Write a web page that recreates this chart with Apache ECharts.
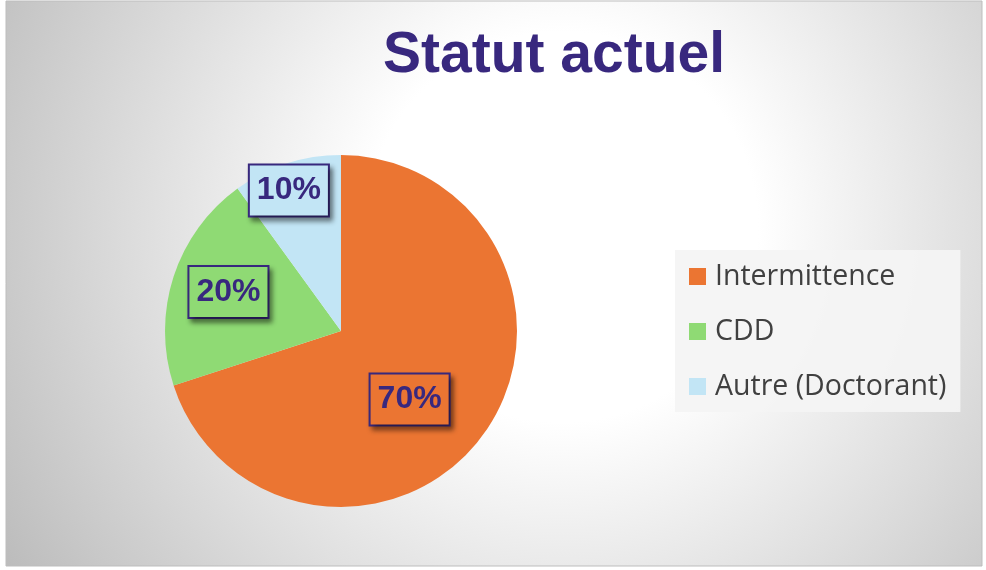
<!DOCTYPE html>
<html>
<head>
<meta charset="utf-8">
<script src="https://cdn.jsdelivr.net/npm/echarts@6/dist/echarts.min.js"></script>
<style>
  html, body { margin: 0; padding: 0; background: #fff; }
  #chart { width: 986px; height: 570px; }
</style>
</head>
<body>
<div id="chart"></div>
<script>
// data
const categories = ['Intermittence', 'CDD', 'Autre (Doctorant)'];
const values = [70, 20, 10];
const colors = ['#EB7532', '#8FDA74', '#C2E5F5'];

const chart = echarts.init(document.getElementById('chart'), null, { renderer: 'canvas' });

// manual label placement, like in the original (offset from default inside spot)
const labelOffsets = [[-5, 15], [-26, -11], [-24, -54]];

const option = {
  animation: false,
  graphic: [
    {
      type: 'rect',
      silent: true,
      z: -10,
      shape: { x: 6, y: 1, width: 976, height: 565 },
      style: {
        fill: new echarts.graphic.RadialGradient(0.57, 0.4, 1.15, [
          { offset: 0, color: '#ffffff' },
          { offset: 0.3, color: '#ffffff' },
          { offset: 1, color: '#bcbcbc' },
        ]),
        stroke: '#bdbdbd',
        lineWidth: 1,
      },
    },
  ],
  title: {
    text: 'Statut actuel',
    left: 549,
    top: 23,
    textAlign: 'center',
    textStyle: {
      fontFamily: 'Liberation Sans',
      fontWeight: 'bold',
      fontSize: 57,
      color: '#38287E',
    },
  },
  legend: {
    orient: 'vertical',
    left: 675,
    top: 250,
    backgroundColor: 'rgba(244,244,244,0.92)',
    padding: [12, 14, 11, 14],
    itemWidth: 17,
    itemHeight: 17,
    itemGap: 26,
    icon: 'rect',
    data: categories,
    textStyle: {
      fontFamily: 'Open Sans',
      fontSize: 28.5,
      color: '#404040',
      padding: [0, 0, 0, 4],
    },
  },
  series: [
    {
      type: 'pie',
      center: [341, 331],
      radius: 176,
      startAngle: 90,
      clockwise: true,
      silent: true,
      label: {
        show: true,
        position: 'inside',
        formatter: '{c}%',
        fontFamily: 'Liberation Sans',
        fontWeight: 'bold',
        fontSize: 32,
        color: '#38287E',
        borderColor: '#38287E',
        borderWidth: 2,
        padding: [10, 7, 8, 7],
        shadowColor: 'rgba(0,0,0,0.45)',
        shadowBlur: 5,
        shadowOffsetX: 3,
        shadowOffsetY: 4,
      },
      labelLine: { show: false },
      data: categories.map((name, i) => ({
        name: name,
        value: values[i],
        itemStyle: { color: colors[i] },
        label: { backgroundColor: colors[i], offset: labelOffsets[i] },
      })),
    },
  ],
};

chart.setOption(option);
</script>
</body>
</html>
